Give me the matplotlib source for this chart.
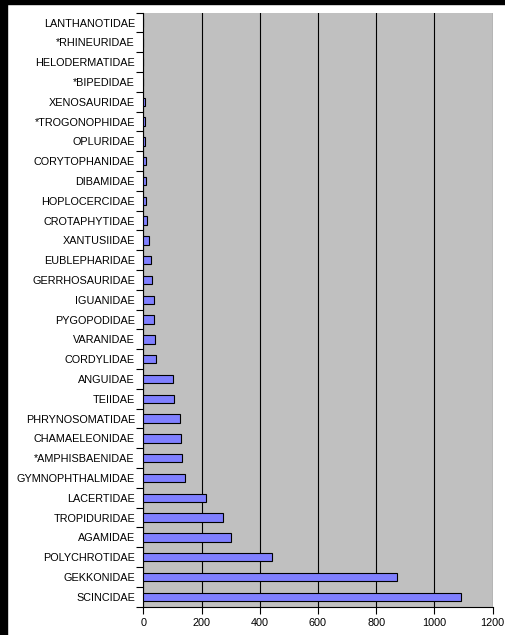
import numpy as np
import matplotlib.pyplot as plt
from matplotlib.patches import Rectangle

# families, bottom to top
families = ['SCINCIDAE', 'GEKKONIDAE', 'POLYCHROTIDAE', 'AGAMIDAE', 'TROPIDURIDAE',
            'LACERTIDAE', 'GYMNOPHTHALMIDAE', '*AMPHISBAENIDAE', 'CHAMAELEONIDAE',
            'PHRYNOSOMATIDAE', 'TEIIDAE', 'ANGUIDAE', 'CORDYLIDAE', 'VARANIDAE',
            'PYGOPODIDAE', 'IGUANIDAE', 'GERRHOSAURIDAE', 'EUBLEPHARIDAE',
            'XANTUSIIDAE', 'CROTAPHYTIDAE', 'HOPLOCERCIDAE', 'DIBAMIDAE',
            'CORYTOPHANIDAE', 'OPLURIDAE', '*TROGONOPHIDAE', 'XENOSAURIDAE',
            '*BIPEDIDAE', 'HELODERMATIDAE', '*RHINEURIDAE', 'LANTHANOTIDAE']
species = [1091, 872, 443, 300, 273, 216, 142, 134, 131, 125, 104, 102, 45, 41,
           36, 36, 31, 28, 18, 13, 10, 10, 9, 7, 6, 7, 0, 0, 0, 0]
xticks = [0, 200, 400, 600, 800, 1000, 1200]

plt.rcParams['font.family'] = ['Liberation Sans', 'DejaVu Sans']

fig = plt.figure(figsize=(5.06, 6.35), dpi=100)
ax = fig.add_axes([0.2832, 0.0446, 0.6905, 0.9354])
ax.set_facecolor('#c0c0c0')

y = np.arange(len(families))
ax.barh(y, species, height=0.42, color='#8080ff', edgecolor='black', linewidth=0.8, zorder=3)

ax.set_xlim(0, 1200)
ax.set_ylim(-0.5, len(families) - 0.5)
ax.set_xticks(xticks)
ax.set_xticklabels([str(v) for v in xticks], fontsize=7.8)
ax.set_yticks(y)
ax.set_yticklabels(families, fontsize=7.8)
ax.set_yticks(np.arange(-0.5, len(families)), minor=True)
ax.tick_params(axis='y', which='major', length=0, pad=6)
ax.tick_params(axis='y', which='minor', length=5, width=0.8, direction='out')
ax.tick_params(axis='x', length=5, width=0.8, direction='out', pad=3)
ax.grid(axis='x', color='black', linewidth=0.8, zorder=1)
ax.set_axisbelow(True)

for s in ['top', 'right']:
    ax.spines[s].set_visible(False)
for s in ['left', 'bottom']:
    ax.spines[s].set_linewidth(0.8)

# black frame edges of the screenshot
fig.patches.append(Rectangle((0, 0), 7 / 506, 1, transform=fig.transFigure, color='black', zorder=0))
fig.patches.append(Rectangle((0, 1 - 4 / 635), 1, 4 / 635, transform=fig.transFigure, color='black', zorder=0))

plt.savefig('out.png', dpi=100)
